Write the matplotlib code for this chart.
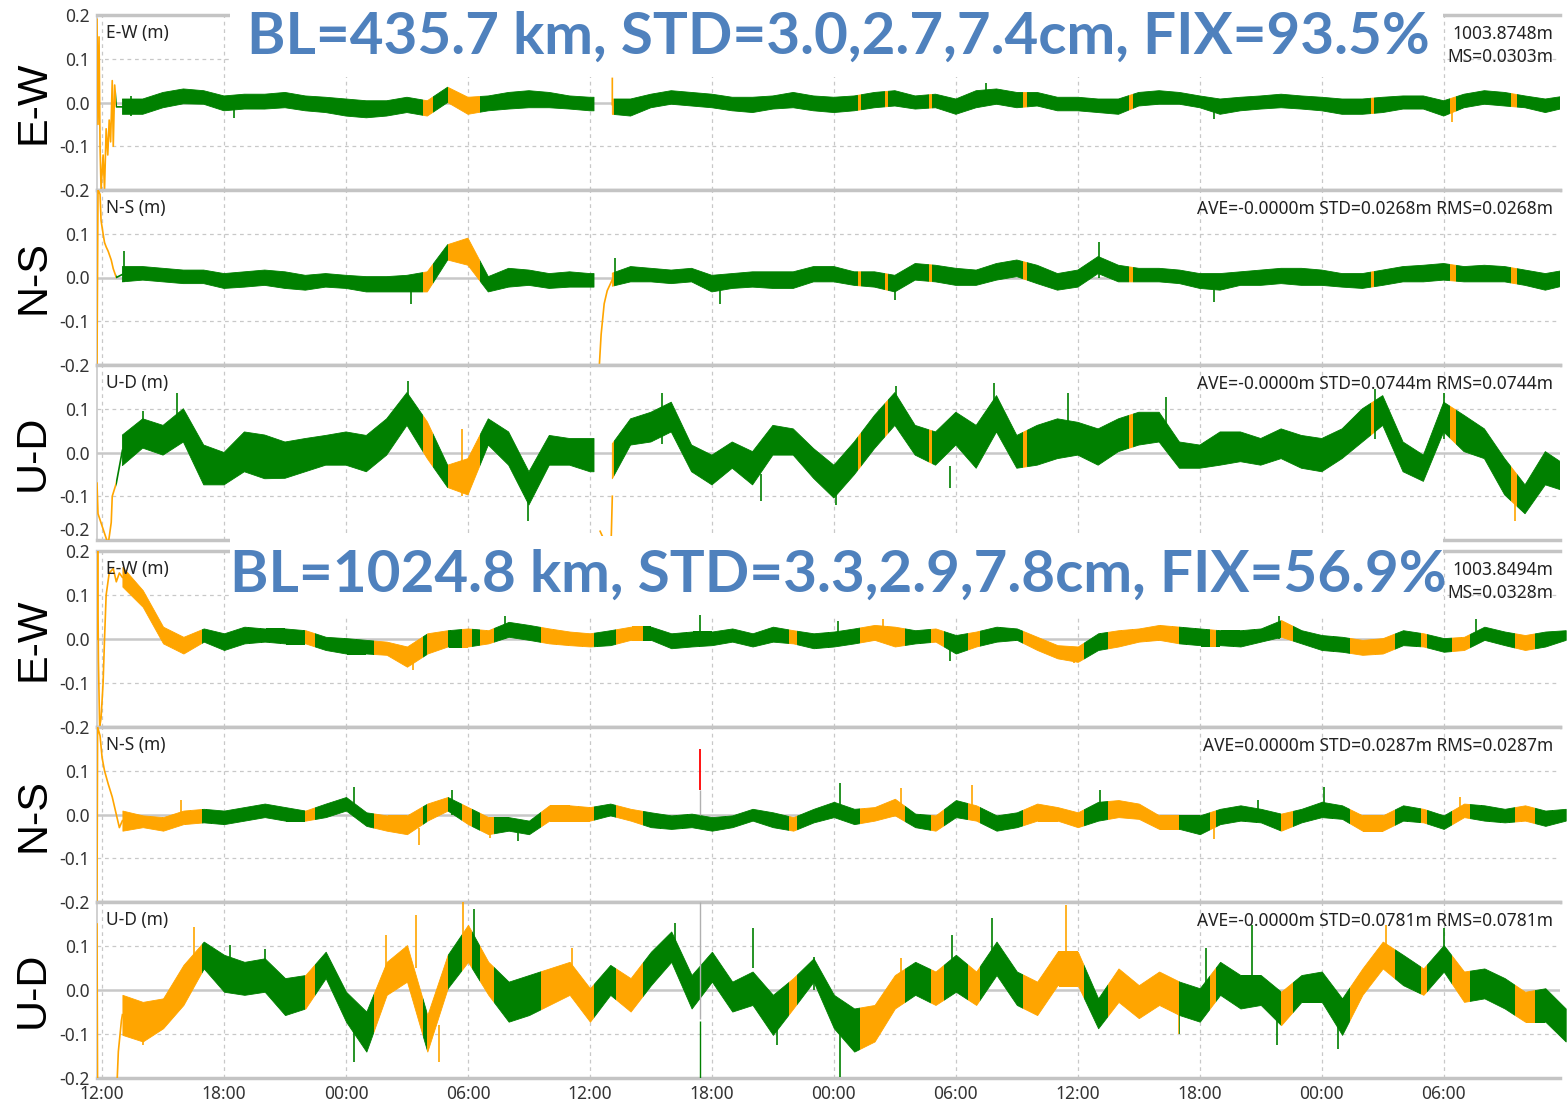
import numpy as np
import matplotlib
matplotlib.use("Agg")
import matplotlib.pyplot as plt
from matplotlib.path import Path
from matplotlib.patches import Rectangle

nan = np.nan

# ---------------------------------------------------------------- data
# time axis in hours after 12:00 of the first day
HOURS_A = [*range(1, 25), 24.2, 24.6, 25.1, *range(26, 73)]
HOURS_B = list(range(1, 73))
TICK_HOURS = list(range(0, 67, 6))
TICK_LABELS = ["12:00", "18:00", "00:00", "06:00"] * 3

TITLE_A = "BL=435.7 km, STD=3.0,2.7,7.4cm, FIX=93.5%"
TITLE_B = "BL=1024.8 km, STD=3.3,2.9,7.8cm, FIX=56.9%"

# float-solution periods (hours); the rest is fixed
FLOAT_A = [(-0.3, 0.7), (15.8, 16.3), (17.0, 18.6), (24.4, 25.2), (37.2, 37.35),
           (38.5, 38.65), (40.7, 40.85), (45.3, 45.5), (50.5, 50.7), (62.4, 62.55),
           (66.3, 66.6), (69.3, 69.6)]
FLOAT_B = [(-0.3, 4.9), (10.0, 10.45), (13.4, 15.8), (16.0, 17.0), (17.7, 18.2),
           (18.6, 19.3), (21.6, 24.2), (25.3, 26.6), (33.8, 34.2), (37.3, 39.5),
           (40.8, 41.4), (42.6, 43.2), (45.3, 48.3), (49.5, 53.0), (54.5, 54.8),
           (58.0, 58.6), (61.4, 63.6), (64.9, 65.2), (66.4, 67.3), (69.5, 70.5)]

# hourly envelope (low / high) of each component, metres
EW_A_LO = [-0.027, -0.027, -0.012, -0.003, -0.004, -0.019, -0.015, -0.015, -0.012, -0.019,
           -0.023, -0.031, -0.035, -0.031, -0.023, -0.031, 0.000, -0.027, -0.019, -0.015,
           -0.012, -0.012, -0.015, -0.019, -0.019, nan, -0.027, -0.031, -0.012, -0.004,
           -0.008, -0.012, -0.019, -0.023, -0.015, -0.012, -0.019, -0.023, -0.019, -0.012,
           -0.008, -0.015, -0.012, -0.027, -0.012, -0.004, -0.012, -0.008, -0.019, -0.019,
           -0.023, -0.027, -0.008, -0.004, -0.004, -0.012, -0.027, -0.019, -0.015, -0.012,
           -0.015, -0.019, -0.027, -0.027, -0.023, -0.015, -0.015, -0.031, -0.012, -0.004,
           -0.008, -0.012, -0.023, -0.012]
EW_A_HI = [0.008, 0.008, 0.023, 0.031, 0.027, 0.015, 0.019, 0.019, 0.023, 0.015,
           0.012, 0.008, 0.004, 0.004, 0.012, 0.004, 0.035, 0.012, 0.015, 0.023,
           0.027, 0.023, 0.015, 0.012, 0.012, nan, 0.008, 0.008, 0.019, 0.027,
           0.023, 0.019, 0.012, 0.012, 0.015, 0.023, 0.015, 0.012, 0.015, 0.023,
           0.027, 0.015, 0.019, 0.008, 0.027, 0.031, 0.023, 0.023, 0.012, 0.012,
           0.008, 0.008, 0.023, 0.027, 0.023, 0.015, 0.008, 0.012, 0.015, 0.019,
           0.015, 0.012, 0.008, 0.008, 0.012, 0.015, 0.015, 0.004, 0.019, 0.027,
           0.023, 0.015, 0.008, 0.015]
NS_A_LO = [-0.010, -0.006, -0.010, -0.014, -0.014, -0.025, -0.022, -0.018, -0.025, -0.029,
           -0.022, -0.025, -0.033, -0.033, -0.033, -0.033, 0.040, 0.028, -0.033, -0.022,
           -0.018, -0.025, -0.022, -0.022, -0.022, nan, -0.020, -0.010, -0.010, -0.014,
           -0.010, -0.033, -0.025, -0.022, -0.025, -0.025, -0.010, -0.010, -0.018, -0.022,
           -0.033, -0.006, -0.010, -0.018, -0.018, -0.006, 0.002, -0.014, -0.029, -0.022,
           0.009, -0.010, -0.010, -0.010, -0.014, -0.025, -0.029, -0.018, -0.018, -0.014,
           -0.018, -0.018, -0.022, -0.025, -0.018, -0.010, -0.010, -0.006, -0.010, -0.010,
           -0.010, -0.018, -0.029, -0.018]
NS_A_HI = [0.025, 0.025, 0.021, 0.017, 0.017, 0.009, 0.013, 0.017, 0.013, 0.005,
           0.009, 0.005, 0.002, 0.002, 0.005, 0.013, 0.075, 0.090, 0.002, 0.021,
           0.017, 0.009, 0.013, 0.009, 0.009, nan, 0.010, 0.025, 0.021, 0.017,
           0.021, 0.005, 0.009, 0.013, 0.013, 0.013, 0.025, 0.025, 0.013, 0.013,
           0.005, 0.032, 0.028, 0.021, 0.017, 0.032, 0.040, 0.028, 0.009, 0.017,
           0.048, 0.028, 0.021, 0.021, 0.017, 0.009, 0.009, 0.013, 0.017, 0.021,
           0.021, 0.017, 0.009, 0.009, 0.017, 0.025, 0.028, 0.032, 0.025, 0.028,
           0.025, 0.017, 0.009, 0.017]
UD_A_LO = [-0.030, 0.010, -0.006, 0.024, -0.074, -0.074, -0.044, -0.060, -0.059, -0.044,
           -0.029, -0.029, -0.044, -0.006, 0.062, -0.014, -0.080, -0.097, 0.017, -0.029,
           -0.120, -0.029, -0.029, -0.044, -0.044, nan, -0.060, 0.017, 0.024, 0.047,
           -0.044, -0.074, -0.036, -0.074, -0.006, -0.006, -0.059, -0.104, -0.051, 0.009,
           0.062, -0.006, -0.029, 0.017, -0.036, 0.047, -0.036, -0.029, -0.014, -0.006,
           -0.029, 0.002, 0.017, 0.024, -0.036, -0.036, -0.029, -0.021, -0.029, -0.014,
           -0.036, -0.044, -0.014, 0.024, 0.062, -0.044, -0.066, 0.047, 0.002, -0.014,
           -0.097, -0.140, -0.074, -0.089]
UD_A_HI = [0.040, 0.077, 0.062, 0.100, 0.017, 0.000, 0.047, 0.040, 0.024, 0.032,
           0.039, 0.047, 0.039, 0.077, 0.137, 0.070, -0.029, -0.014, 0.077, 0.047,
           -0.044, 0.039, 0.032, 0.032, 0.032, nan, 0.020, 0.077, 0.092, 0.115,
           0.017, -0.006, 0.024, 0.002, 0.062, 0.054, 0.009, -0.029, 0.024, 0.085,
           0.137, 0.062, 0.047, 0.092, 0.062, 0.130, 0.039, 0.062, 0.077, 0.069,
           0.054, 0.077, 0.092, 0.092, 0.024, 0.017, 0.047, 0.047, 0.032, 0.054,
           0.039, 0.032, 0.054, 0.100, 0.130, 0.024, -0.006, 0.115, 0.085, 0.054,
           -0.014, -0.074, 0.002, -0.029]

EW_B_LO = [0.119, 0.073, -0.010, -0.033, -0.006, -0.025, -0.010, -0.006, -0.010, -0.010,
           -0.025, -0.033, -0.033, -0.036, -0.063, -0.033, -0.017, -0.017, -0.010, 0.005,
           -0.002, -0.010, -0.014, -0.017, -0.014, -0.002, -0.002, -0.021, -0.017, -0.014,
           -0.006, -0.017, -0.006, -0.010, -0.021, -0.017, -0.010, -0.002, -0.017, -0.010,
           -0.006, -0.033, -0.017, -0.006, -0.002, -0.025, -0.044, -0.052, -0.025, -0.017,
           -0.006, -0.002, -0.010, -0.014, -0.014, -0.017, -0.006, 0.005, -0.010, -0.025,
           -0.029, -0.036, -0.033, -0.014, -0.017, -0.029, -0.025, -0.002, -0.014, -0.025,
           -0.017, -0.002]
EW_B_HI = [0.164, 0.111, 0.028, 0.005, 0.024, 0.013, 0.028, 0.024, 0.024, 0.020,
           0.005, 0.002, -0.002, -0.006, -0.017, 0.013, 0.020, 0.024, 0.020, 0.039,
           0.032, 0.024, 0.017, 0.013, 0.020, 0.028, 0.028, 0.013, 0.017, 0.017,
           0.024, 0.013, 0.028, 0.020, 0.013, 0.017, 0.024, 0.032, 0.028, 0.020,
           0.024, 0.009, 0.017, 0.028, 0.024, 0.005, -0.014, -0.017, 0.013, 0.020,
           0.024, 0.032, 0.028, 0.024, 0.020, 0.020, 0.024, 0.043, 0.020, 0.009,
           0.005, -0.002, 0.002, 0.020, 0.013, 0.002, 0.005, 0.028, 0.017, 0.009,
           0.017, 0.020]
NS_B_LO = [-0.037, -0.029, -0.037, -0.022, -0.018, -0.022, -0.014, -0.006, -0.014, -0.014,
           -0.006, 0.009, -0.026, -0.037, -0.045, -0.014, 0.009, -0.022, -0.045, -0.037,
           -0.045, -0.014, -0.014, -0.014, -0.002, -0.014, -0.029, -0.033, -0.029, -0.037,
           -0.029, -0.014, -0.029, -0.037, -0.018, -0.006, -0.022, -0.014, -0.002, -0.029,
           -0.037, -0.006, -0.014, -0.037, -0.029, -0.014, -0.014, -0.029, -0.014, -0.006,
           -0.010, -0.033, -0.033, -0.045, -0.022, -0.014, -0.018, -0.037, -0.018, -0.006,
           -0.010, -0.037, -0.037, -0.014, -0.018, -0.033, -0.006, -0.014, -0.018, -0.014,
           -0.026, -0.014]
NS_B_HI = [0.009, -0.002, -0.006, 0.009, 0.013, 0.009, 0.017, 0.025, 0.017, 0.009,
           0.025, 0.040, 0.005, -0.002, -0.002, 0.025, 0.040, 0.017, -0.006, -0.006,
           -0.014, 0.021, 0.021, 0.017, 0.025, 0.013, 0.005, -0.002, 0.002, -0.006,
           -0.002, 0.013, 0.005, -0.006, 0.013, 0.029, 0.013, 0.017, 0.036, 0.002,
           -0.002, 0.033, 0.021, -0.002, 0.005, 0.025, 0.017, 0.005, 0.029, 0.033,
           0.025, -0.002, -0.002, -0.002, 0.013, 0.021, 0.013, 0.002, 0.013, 0.029,
           0.021, -0.002, -0.002, 0.021, 0.013, -0.002, 0.025, 0.021, 0.013, 0.021,
           0.009, 0.013]
UD_B_LO = [-0.102, -0.117, -0.087, -0.034, 0.049, -0.004, -0.011, -0.004, -0.057, -0.042,
           0.027, -0.072, -0.140, -0.011, 0.019, -0.140, 0.004, 0.064, -0.011, -0.072,
           -0.057, -0.034, -0.011, -0.072, -0.011, -0.049, 0.011, 0.064, -0.042, 0.019,
           -0.049, -0.034, -0.102, -0.042, 0.019, -0.087, -0.140, -0.117, -0.042, -0.011,
           -0.034, -0.004, -0.034, 0.034, -0.034, -0.057, 0.011, 0.011, -0.087, -0.027,
           -0.064, -0.034, -0.057, -0.072, -0.011, -0.042, -0.034, -0.080, -0.027, -0.027,
           -0.102, -0.011, 0.049, 0.011, -0.011, 0.042, -0.027, -0.019, -0.042, -0.072,
           -0.072, -0.117]
UD_B_HI = [-0.011, -0.027, -0.019, 0.057, 0.110, 0.080, 0.064, 0.072, 0.027, 0.034,
           0.087, -0.004, -0.049, 0.064, 0.102, -0.057, 0.080, 0.148, 0.064, 0.019,
           0.034, 0.049, 0.064, 0.004, 0.057, 0.027, 0.087, 0.133, 0.034, 0.087,
           0.019, 0.042, -0.011, 0.027, 0.072, -0.011, -0.042, -0.034, 0.034, 0.064,
           0.042, 0.080, 0.042, 0.110, 0.042, 0.019, 0.087, 0.087, -0.019, 0.049,
           0.011, 0.042, 0.019, 0.004, 0.064, 0.034, 0.034, -0.004, 0.034, 0.042,
           -0.019, 0.049, 0.110, 0.080, 0.049, 0.102, 0.042, 0.049, 0.027, -0.004,
           0.004, -0.042]

# isolated excursions: (hour, low, high)
EW_A_SPIKES = [(1.4, -0.030, 0.015), (6.5, -0.035, 0.0), (43.5, 0.0, 0.045),
               (54.7, -0.038, 0.0), (66.4, -0.045, -0.010)]
NS_A_SPIKES = [(1.1, -0.010, 0.060), (15.2, -0.060, -0.020), (25.25, 0.0, 0.045),
               (30.4, -0.060, -0.020), (39.0, -0.052, -0.010), (49.05, 0.0, 0.082),
               (54.7, -0.057, -0.010)]
UD_A_SPIKES = [(2.0, 0.010, 0.096), (3.7, 0.030, 0.137), (15.05, 0.060, 0.164),
               (17.7, -0.100, 0.054), (20.95, -0.157, -0.080), (27.55, 0.020, 0.137),
               (32.4, -0.110, -0.050), (36.1, -0.120, -0.060), (39.05, 0.060, 0.152),
               (41.7, -0.082, -0.030), (43.9, 0.050, 0.160), (47.5, 0.030, 0.137),
               (52.35, 0.030, 0.126), (62.6, 0.030, 0.145), (66.0, 0.030, 0.137),
               (69.5, -0.157, -0.080)]
EW_B_SPIKES = [(15.3, -0.070, -0.030), (19.8, 0.0, 0.052), (29.4, 0.0, 0.055),
               (36.2, 0.0, 0.040), (38.4, 0.0, 0.045), (41.7, -0.050, -0.020),
               (47.8, -0.055, -0.030), (57.9, 0.0, 0.052), (67.6, 0.0, 0.045)]
NS_B_SPIKES = [(3.9, 0.0, 0.033), (12.37, 0.0, 0.064), (15.6, -0.070, -0.030),
               (17.2, 0.0, 0.056), (19.07, -0.053, -0.020), (20.45, -0.060, -0.020),
               (36.3, 0.0, 0.071), (39.3, 0.0, 0.060), (42.8, 0.0, 0.068),
               (49.1, 0.0, 0.056), (54.7, -0.057, -0.020), (56.85, 0.0, 0.033),
               (60.1, 0.0, 0.064), (66.8, 0.0, 0.040)]
UD_B_SPIKES = [(2.0, -0.125, -0.060), (4.5, 0.050, 0.144), (6.27, 0.030, 0.102),
               (8.0, 0.030, 0.094), (12.4, -0.163, -0.080), (13.98, 0.020, 0.125),
               (15.43, 0.050, 0.170), (16.56, -0.163, -0.080), (17.77, 0.050, 0.200),
               (18.3, 0.050, 0.185), (23.1, 0.0, 0.095), (28.2, 0.050, 0.152),
               (32.0, 0.050, 0.140), (33.2, -0.125, -0.060), (35.0, 0.0, 0.076),
               (36.3, -0.197, -0.100), (39.3, 0.0, 0.072), (41.8, 0.050, 0.125),
               (43.8, 0.050, 0.163), (47.4, 0.050, 0.193), (53.0, -0.100, -0.040),
               (54.3, 0.0, 0.095), (56.57, 0.0, 0.148), (57.8, -0.125, -0.050),
               (60.8, -0.133, -0.060), (63.16, 0.050, 0.148), (66.0, 0.050, 0.140),
               (71.8, -0.133, -0.070)]

# convergence / re-initialisation traces: (hour, value)
EW_A_TRACE = [(-0.25, 0.19), (-0.2, -0.05), (-0.15, 0.15), (-0.1, -0.1), (-0.05, -0.2),
              (0.05, -0.12), (0.12, -0.2), (0.2, -0.06), (0.28, -0.12), (0.35, -0.04),
              (0.42, -0.09), (0.5, 0.05), (0.55, -0.1), (0.62, 0.04), (0.7, -0.01),
              (1.0, -0.01), (nan, nan), (25.1, -0.005), (25.1, 0.055)]
NS_A_TRACE = [(-0.25, -0.2), (-0.2, 0.2), (-0.1, 0.19), (-0.05, 0.13), (0.05, 0.1),
              (0.12, 0.08), (0.2, 0.07), (0.3, 0.06), (0.45, 0.04), (0.55, 0.02),
              (0.7, 0.0), (1.0, 0.007), (nan, nan), (24.45, -0.21), (24.55, -0.13),
              (24.7, -0.06), (24.85, -0.03), (25.0, -0.015), (25.1, -0.005)]
UD_A_TRACE = [(-0.25, -0.07), (-0.2, -0.14), (0.3, -0.21), (0.45, -0.16), (0.5, -0.1),
              (0.7, -0.07), (1.0, 0.005), (nan, nan), (24.5, -0.18), (24.6, -0.19),
              (nan, nan), (25.05, -0.19), (25.1, -0.1)]
EW_B_TRACE = [(-0.25, 0.0), (-0.22, 0.2), (-0.18, -0.05), (-0.12, -0.2), (-0.05, -0.18),
              (0.05, -0.1), (0.12, 0.0), (0.2, 0.1), (0.35, 0.15), (0.55, 0.16),
              (0.7, 0.13), (0.85, 0.15), (1.0, 0.14)]
NS_B_TRACE = [(-0.25, -0.2), (-0.22, 0.2), (-0.1, 0.18), (0.0, 0.13), (0.12, 0.1),
              (0.3, 0.07), (0.5, 0.04), (0.7, 0.0), (0.85, -0.03), (1.0, -0.014)]
UD_B_TRACE = [(-0.25, 0.15), (-0.22, -0.25), (0.7, -0.25), (0.8, -0.14), (0.95, -0.07),
              (1.0, -0.056)]

# single-epoch outlier around 17:25 of the second day: (hour, low, high)
NS_B_OUTLIER = (29.4, 0.056, 0.150)
NS_B_LINK = (29.4, 0.0, 0.056)
UD_B_OUTLIER = (29.4, -0.200, -0.070)
UD_B_LINK = (29.4, -0.065, 0.200)

STATS = [
    ["1003.8748m", "MS=0.0303m"],
    ["AVE=-0.0000m STD=0.0268m RMS=0.0268m"],
    ["AVE=-0.0000m STD=0.0744m RMS=0.0744m"],
    ["1003.8494m", "MS=0.0328m"],
    ["AVE=0.0000m STD=0.0287m RMS=0.0287m"],
    ["AVE=-0.0000m STD=0.0781m RMS=0.0781m"],
]
COMPONENTS = ["E-W", "N-S", "U-D", "E-W", "N-S", "U-D"]
Y_TICKS = [0.2, 0.1, 0.0, -0.1, -0.2]

# ---------------------------------------------------------------- style
GREEN = "#008000"
ORANGE = "#FFA500"
GRID = "#c8c8c8"
SMALL_FONT = ["Noto Sans", "DejaVu Sans"]
W, H = 1567, 1112
LEFT, RIGHT = 97, 1560
PANEL_Y = [(15, 190), (190, 365), (365, 540), (551, 727), (727, 902), (902, 1078)]


def complement(spans, lo=-5.0, hi=80.0):
    out, cur = [], lo
    for a, b in sorted(spans):
        if a > cur:
            out.append((cur, a))
        cur = max(cur, b)
    out.append((cur, hi))
    return out


def spans_path(spans):
    verts, codes = [], []
    for a, b in spans:
        verts += [(a, -1.0), (b, -1.0), (b, 1.0), (a, 1.0), (a, -1.0)]
        codes += [Path.MOVETO, Path.LINETO, Path.LINETO, Path.LINETO, Path.CLOSEPOLY]
    return Path(verts, codes)


def draw_series(ax, hours, lo, hi, spikes, trace, floats):
    for color, spans in ((GREEN, complement(floats)), (ORANGE, floats)):
        clip = spans_path(spans)
        arts = [ax.fill_between(hours, lo, hi, color=color, lw=0.6, zorder=3)]
        st, sl, sh = zip(*spikes)
        arts.append(ax.vlines(st, sl, sh, colors=color, lw=1.2, zorder=3))
        tt, tv = zip(*trace)
        arts += ax.plot(tt, tv, color=color, lw=1.2, zorder=3)
        for a in arts:
            a.set_clip_path(clip, ax.transData)


series = [
    (HOURS_A, EW_A_LO, EW_A_HI, EW_A_SPIKES, EW_A_TRACE, FLOAT_A),
    (HOURS_A, NS_A_LO, NS_A_HI, NS_A_SPIKES, NS_A_TRACE, FLOAT_A),
    (HOURS_A, UD_A_LO, UD_A_HI, UD_A_SPIKES, UD_A_TRACE, FLOAT_A),
    (HOURS_B, EW_B_LO, EW_B_HI, EW_B_SPIKES, EW_B_TRACE, FLOAT_B),
    (HOURS_B, NS_B_LO, NS_B_HI, NS_B_SPIKES, NS_B_TRACE, FLOAT_B),
    (HOURS_B, UD_B_LO, UD_B_HI, UD_B_SPIKES, UD_B_TRACE, FLOAT_B),
]

fig = plt.figure(figsize=(W / 100, H / 100), dpi=100)
fig.patch.set_facecolor("white")
axes = []
for i, (top, bot) in enumerate(PANEL_Y):
    ax = fig.add_axes([LEFT / W, 1 - bot / H, (RIGHT - LEFT) / W, (bot - top) / H])
    axes.append(ax)
    ax.set_xlim(-0.25, 71.72)
    ax.set_ylim(-0.2, 0.2)

    ticks = Y_TICKS if i in (0, 3) else Y_TICKS[1:]
    ax.set_yticks(ticks)
    labels = ax.set_yticklabels([f"{v:.1f}" for v in ticks], family=SMALL_FONT)
    if i == 2:
        # the lowest label of the first block sits just above the next block's top label
        labels[-1].set_verticalalignment("bottom")
    ax.set_xticks(TICK_HOURS)
    if i == 5:
        ax.set_xticklabels(TICK_LABELS, family=SMALL_FONT)
    else:
        ax.set_xticklabels([])
    ax.tick_params(length=0, labelsize=12.5, labelcolor="#333333", pad=5)

    ax.grid(axis="x", color=GRID, ls=(0, (3, 3)), lw=0.9, zorder=1)
    for v in (0.1, -0.1):
        ax.axhline(v, color=GRID, ls=(0, (3, 3)), lw=0.9, zorder=1)
    ax.axhline(0.0, color=GRID, lw=1.8, zorder=1)
    ax.set_axisbelow(True)

    for side in ("top", "bottom"):
        ax.spines[side].set_color("#c4c4c4")
        ax.spines[side].set_linewidth(2.5)
    ax.spines["left"].set_color(GRID)
    ax.spines["left"].set_linewidth(1.2)
    ax.spines["right"].set_visible(False)

    draw_series(ax, *series[i])

    ax.text(0.006, 0.895, f"{COMPONENTS[i]} (m)", transform=ax.transAxes,
            ha="left", va="center", fontsize=12.5, family=SMALL_FONT, color="#222222")
    lines = STATS[i]
    for k, line in enumerate(lines):
        ax.text(0.9955, 0.89 - 0.128 * k, line, transform=ax.transAxes,
                ha="right", va="center", fontsize=12.5, family=SMALL_FONT,
                color="#222222")

    fig.text(33 / W, 1 - (top + bot) / 2 / H, COMPONENTS[i], rotation=90,
             ha="center", va="center", fontsize=31,
             family=["Liberation Sans Narrow", "Liberation Sans", "DejaVu Sans"])

# outlier epoch in the second baseline
t, a, b = NS_B_LINK
axes[4].vlines([t], [a], [b], colors="#b0b0b0", lw=1.0, zorder=3)
t, a, b = NS_B_OUTLIER
axes[4].vlines([t], [a], [b], colors="red", lw=1.3, zorder=4)
t, a, b = UD_B_LINK
axes[5].vlines([t], [a], [b], colors="#b0b0b0", lw=1.0, zorder=3)
t, a, b = UD_B_OUTLIER
axes[5].vlines([t], [a], [b], colors=GREEN, lw=1.0, zorder=4)

# headline boxes
for (y0, y1), title, yc in (((0, 77), TITLE_A, 37.5), ((536, 615), TITLE_B, 575)):
    fig.add_artist(Rectangle((230 / W, 1 - y1 / H), (1443 - 230) / W, (y1 - y0) / H,
                             transform=fig.transFigure, facecolor="white",
                             edgecolor="none", zorder=5))
    fig.text(838 / W, 1 - yc / H, title, ha="center", va="center", fontsize=42,
             fontweight="bold", color="#4F81BD", family=["Lato", "DejaVu Sans"],
             zorder=6)

fig.savefig("out.png", dpi=100, facecolor="white")
